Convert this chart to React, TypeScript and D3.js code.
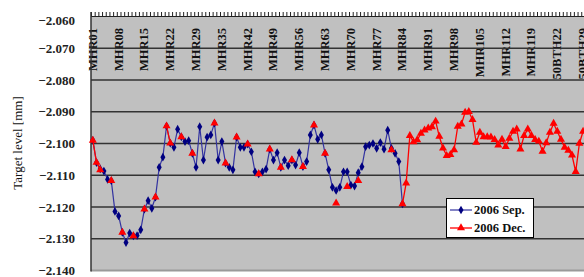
import React from 'react';
import * as d3 from 'd3';

// category tick labels, one every 7 points
const tickLabels = [
  'MHR01', 'MHR08', 'MHR15', 'MHR22', 'MHR29', 'MHR35', 'MHR42', 'MHR49', 'MHR56',
  'MHR63', 'MHR70', 'MHR77', 'MHR84', 'MHR91', 'MHR98', 'MHR105', 'MHR112', 'MHR119',
  '50BTH22', '50BTH29',
];
const yTicks = [-2.06, -2.07, -2.08, -2.09, -2.1, -2.11, -2.12, -2.13, -2.14];

// 2006 Sep. (points 0..84)
const sepValues: (number | null)[] = [
  -2.099, -2.106, -2.108, -2.1087, -2.1113, -2.1117, -2.1214, -2.1228, -2.128, -2.1312,
  -2.1282, -2.1291, -2.129, -2.1272, -2.1207, -2.118, -2.1204, -2.1169, -2.1075, -2.1043,
  -2.0945, -2.0999, -2.1012, -2.0955, -2.0979, -2.0994, -2.0991, -2.1031, -2.1075, -2.0947,
  -2.1052, -2.098, -2.0973, -2.0936, -2.1052, -2.0994, -2.1062, -2.1075, -2.1083, -2.098,
  -2.1012, -2.1012, -2.1002, -2.1026, -2.1089, -2.1096, -2.1089, -2.1081, -2.1018, -2.1052,
  -2.1029, -2.1075, -2.1052, -2.107, -2.1052, -2.1068, -2.1029, -2.1073, -2.1057, -2.0973,
  -2.0942, -2.0987, -2.0973, -2.1031, -2.1083, -2.1138, -2.1148, -2.1138, -2.1089, -2.1089,
  -2.1131, -2.1134, -2.1092, -2.1073, -2.101, -2.1005, -2.1, -2.1015, -2.0997, -2.1018,
  -2.0958, -2.1015, -2.1031, -2.1057, -2.119,
];

// 2006 Dec. (sparse on the left, continuous from point 84)
const decValues: (number | null)[] = [
  -2.099, -2.106, -2.1083, null, null, -2.1117, null, null, -2.128, null,
  null, -2.1291, null, null, -2.1207, null, null, -2.1169, null, null,
  -2.0945, -2.0999, null, null, -2.0979, null, null, -2.1031, null, null,
  null, null, null, -2.0936, null, null, -2.1062, null, null, -2.098,
  null, null, -2.1002, null, null, -2.1096, null, null, -2.1018, null,
  null, -2.1075, null, null, -2.1052, null, null, -2.1073, null, null,
  -2.0942, null, null, -2.1031, null, null, -2.1188, null, null, -2.1136,
  null, null, -2.1117, null, null, null, null, null, null, null,
  null, -2.102, null, null, -2.119, -2.1125, -2.0975, -2.0995, -2.0989, -2.0968,
  -2.0958, -2.0952, -2.0948, -2.093, -2.0978, -2.1015, -2.1038, -2.1035, -2.102, -2.0946,
  -2.0939, -2.0902, -2.09, -2.0925, -2.0997, -2.0965, -2.0979, -2.0979, -2.098, -2.0988,
  -2.1005, -2.0987, -2.101, -2.0984, -2.0962, -2.0955, -2.1018, -2.0975, -2.0955, -2.0975,
  -2.0988, -2.0993, -2.1025, -2.0998, -2.0965, -2.0937, -2.0962, -2.0987, -2.1012, -2.1022,
  -2.1037, -2.1089, -2.1, -2.0962, -2.096,
];

const W = 584;
const H = 277;
const N = 136;
const serif = '"Liberation Serif", "DejaVu Serif", serif';

export default function App() {
  const left = 91;
  const top = 16.5;
  const bottom = 270.5;
  const x = d3.scaleBand<number>().domain(d3.range(N)).range([left, left + N * 3.686]);
  const cx = (i: number) => (x(i) as number) + x.bandwidth() / 2;
  const y = d3.scaleLinear().domain([-2.14, -2.06]).range([bottom, top]);

  const line = d3.line<number | null>()
    .defined(d => d != null)
    .x((_, i) => cx(i))
    .y(d => y(d as number));

  const diamond = d3.symbol().type(d3.symbolDiamond).size(22)();
  const triangle = d3.symbol().type(d3.symbolTriangle).size(28)();

  return (
    <svg width={W} height={H} style={{ position: 'absolute', left: 0, top: 0, background: '#fff' }}
      fontFamily={serif}>
      <rect x={left} y={top} width={W - left} height={bottom - top} fill="#c0c0c0" />
      <line x1={left} x2={W} y1={bottom} y2={bottom} stroke="#9a9a9a" strokeWidth={2} />

      {/* category labels inside top of plot */}
      {tickLabels.map((t, k) => (
        <text key={t} transform={`translate(${cx(k * 7)},28) rotate(-90)`} textAnchor="end"
          dominantBaseline="central" fontSize={12.5} fontWeight="bold" fill="#111">{t}</text>
      ))}

      {/* gridlines */}
      {yTicks.slice(1, -1).map(v => (
        <line key={v} x1={left} x2={W} y1={y(v)} y2={y(v)} stroke="#333" strokeWidth={1.5} />
      ))}

      {/* top category axis with ticks */}
      <line x1={left} x2={W} y1={top} y2={top} stroke="#222" strokeWidth={1} />
      {d3.range(N).map(i => (
        <line key={i} x1={(x(i) as number) + 0.5} x2={(x(i) as number) + 0.5} y1={12} y2={top}
          stroke="#222" strokeWidth={1} />
      ))}
      <line x1={left} x2={left} y1={12} y2={bottom + 1} stroke="#333" strokeWidth={1.5} />

      {/* y tick labels */}
      {yTicks.map(v => (
        <text key={v} x={75} y={y(v) + (v === -2.06 ? 4 : 0)} textAnchor="end" dominantBaseline="central"
          fontSize={13} fontWeight="bold" fill="#222">{d3.format('.3f')(v)}</text>
      ))}
      <text transform={`translate(17,143) rotate(-90)`} textAnchor="middle" dominantBaseline="central"
        fontSize={13} fill="#111">Target level [mm]</text>

      {/* 2006 Sep. */}
      <path d={line(sepValues) ?? ''} fill="none" stroke="#3333a0" strokeWidth={1.2} />
      {sepValues.map((v, i) => v == null ? null : (
        <path key={i} d={diamond ?? ''} transform={`translate(${cx(i)},${y(v)})`} fill="#000080" />
      ))}

      {/* 2006 Dec. */}
      <path d={line(decValues) ?? ''} fill="none" stroke="#ff0000" strokeWidth={1.3} />
      {decValues.map((v, i) => v == null ? null : (
        <path key={i} d={triangle ?? ''} transform={`translate(${cx(i)},${y(v)})`} fill="#ff0000" />
      ))}

      {/* legend */}
      <rect x={446.5} y={198.5} width={87} height={39} fill="#fff" stroke="#000" strokeWidth={1} />
      <line x1={450} x2={472} y1={210} y2={210} stroke="#3333a0" strokeWidth={1.2} />
      <path d={diamond ?? ''} transform="translate(461,210)" fill="#000080" />
      <text x={474} y={210} dominantBaseline="central" fontSize={12.5} fontWeight="bold" fill="#111">2006 Sep.</text>
      <line x1={450} x2={472} y1={228} y2={228} stroke="#ff0000" strokeWidth={1.3} />
      <path d={triangle ?? ''} transform="translate(461,228)" fill="#ff0000" />
      <text x={474} y={228} dominantBaseline="central" fontSize={12.5} fontWeight="bold" fill="#111">2006 Dec.</text>
    </svg>
  );
}
